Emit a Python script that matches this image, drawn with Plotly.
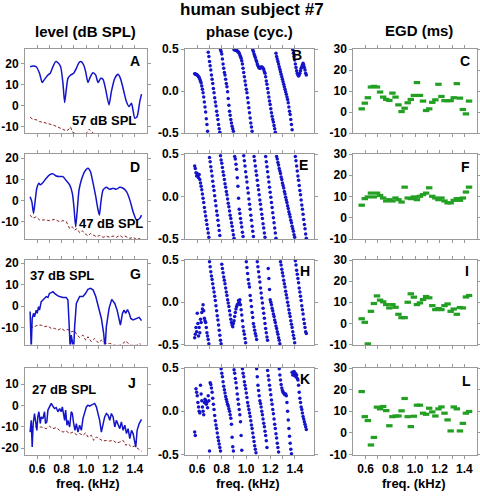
import plotly.graph_objects as go

W, H = 480, 496

# ---------------- data ----------------
freq_tickvals = [0.6, 0.7, 0.8, 0.9, 1.0, 1.1, 1.2, 1.3, 1.4]
freq_ticktext = ['0.6', '', '0.8', '', '1.0', '', '1.2', '', '1.4']

# level panels (dB SPL): blue = emission level, red dashed = noise floor
levA_freq = [0.542,0.564,0.592,0.619,0.641,0.660,0.688,0.707,0.729,0.751,0.770,0.792,0.811,0.825,0.838,0.852,0.874,0.899,0.921,0.942,0.962,0.981,0.997,1.016,1.036,1.057,1.079,1.099,1.121,1.140,1.162,1.189,1.208,1.236,1.263,1.282,1.304,1.331,1.353,1.373,1.400,1.419,1.441,1.455]
levA = [18.4,18.7,18.4,15.3,10.9,12.4,14.5,15.3,18.4,20.8,20.3,18.4,10.6,1.4,7.4,12.9,14.5,15.3,17.6,20.3,20.8,19.2,16.1,11.0,13.7,15.6,14.5,10.9,12.9,12.4,7.4,0.3,6.6,12.9,14.8,12.9,8.2,1.9,-0.5,1.1,-6.0,-5.2,1.9,5.4]
noiseA_freq = [0.542,0.564,0.597,0.619,0.647,0.688,0.729,0.770,0.811,0.838,0.860,0.874,0.888,0.907,0.934,0.975,1.008,1.025,1.036,1.058,1.085,1.140,1.249,1.455]
noiseA = [-5.5,-6.5,-6.8,-7.6,-7.9,-8.4,-9.2,-10.2,-11.5,-12.0,-11.2,-10.2,-12.5,-13.2,-14,-14.5,-12.8,-11.2,-11.8,-13.0,-14.5,-15.5,-16.5,-18]

levD_freq = [0.542,0.556,0.570,0.584,0.597,0.614,0.627,0.647,0.674,0.701,0.729,0.756,0.784,0.811,0.838,0.866,0.888,0.901,0.915,0.926,0.943,0.962,0.989,1.016,1.036,1.058,1.080,1.099,1.110,1.121,1.140,1.167,1.195,1.222,1.249,1.277,1.304,1.332,1.359,1.386,1.414,1.441,1.455]
levD = [1.8,-0.5,-6.1,0.3,5.8,8.2,7.4,8.5,10.5,12.1,12.6,11.6,11.3,11.3,9.4,7.4,3.4,-2.9,-12.4,-6.1,5.0,9.7,13.7,15.3,13.7,8.2,1.8,-4.5,-6.9,-1.3,5.0,6.3,5.3,5.8,5.3,6.3,5.8,4.2,0.3,-5.3,-9.2,-8.4,-6.9]
noiseD_freq = [0.542,0.564,0.592,0.619,0.660,0.701,0.742,0.784,0.811,0.838,0.852,0.866,0.888,0.907,0.926,0.948,0.970,0.989,1.016,1.036,1.058,1.085,1.112,1.140,1.167,1.195,1.222,1.249,1.277,1.299,1.318,1.337,1.359,1.386,1.414,1.436,1.455]
noiseD = [-6.9,-8.4,-7.7,-9.2,-9.2,-9.5,-8.9,-10.0,-9.5,-10.0,-11.6,-13.2,-12.4,-14.0,-13.3,-15.2,-14.3,-15.6,-16.7,-15.6,-16.3,-17.1,-16.5,-17.4,-16.8,-17.4,-16.8,-17.4,-16.5,-17.4,-16.8,-17.4,-17.9,-17.4,-18.4,-17.9,-18.7]

levG_freq = [0.542,0.551,0.559,0.570,0.578,0.592,0.600,0.611,0.619,0.633,0.647,0.660,0.674,0.688,0.701,0.715,0.729,0.742,0.756,0.770,0.784,0.811,0.838,0.852,0.860,0.871,0.879,0.888,0.899,0.907,0.921,0.948,0.975,0.997,1.016,1.036,1.058,1.080,1.099,1.126,1.145,1.156,1.167,1.189,1.211,1.236,1.255,1.271,1.282,1.299,1.312,1.326,1.340,1.354,1.367,1.386,1.400,1.414,1.436,1.455]
levG = [-2.5,-20,-5.7,-3.3,-4.9,-1.8,-3.3,-0.2,-1.8,2.1,2.9,3.7,4.5,4.1,6.0,6.3,6.8,6.0,5.2,4.8,4.5,4.1,4.1,2.9,-6.4,-20,-13.4,-15.8,-20,-9.5,1.3,4.5,4.5,6.0,7.9,8.3,7.6,4.5,-0.2,-5.7,-12.7,-20,-9.5,-1.0,3.2,1.3,-1.8,-6.4,-8.8,-3.3,-1.8,-3.3,-1.5,-3.3,-5.7,-6.4,-6.1,-5.7,-5.2,-6.7]
noiseG_freq = [0.542,0.578,0.605,0.633,0.660,0.688,0.715,0.742,0.770,0.797,0.825,0.852,0.879,0.907,0.926,0.948,0.975,0.997,1.016,1.044,1.071,1.099,1.126,1.162,1.195,1.236,1.277,1.304,1.326,1.345,1.373,1.414,1.441,1.455]
noiseG = [-10.3,-9.5,-8.8,-8.8,-9.5,-9.2,-10.3,-10.3,-11.1,-10.3,-11.4,-10.8,-11.9,-11.4,-13.4,-14.5,-13.4,-15.8,-14.2,-16.5,-15.0,-17.0,-15.8,-17.3,-17.3,-18.1,-18.1,-17.3,-16.1,-17.3,-18.1,-18.1,-17.3,-18.6]

levJ_freq = [0.542,0.551,0.559,0.567,0.578,0.586,0.597,0.605,0.614,0.625,0.633,0.647,0.660,0.668,0.679,0.688,0.701,0.715,0.729,0.742,0.756,0.770,0.784,0.797,0.806,0.816,0.825,0.833,0.844,0.852,0.866,0.879,0.888,0.899,0.910,0.921,0.934,0.948,0.962,0.975,0.989,1.003,1.016,1.030,1.044,1.058,1.071,1.085,1.099,1.112,1.126,1.140,1.153,1.167,1.181,1.195,1.208,1.222,1.236,1.249,1.263,1.277,1.290,1.304,1.318,1.332,1.345,1.359,1.373,1.386,1.400,1.408,1.419,1.436,1.455]
levJ = [-12.5,-7,-19.5,-8.5,-3.8,-7,-11.7,-5.4,-3,-8.5,-5.4,-6.2,-3,-8.5,-7.7,-2.2,-0.7,0.9,-0.4,-1.5,-1,-3,-1.5,-3,-0.7,-3.8,-7,-2.2,-9.3,-7,-10.1,-3,-3.8,-8.5,-11.7,-8.5,-12.5,-9.3,-11.7,-6.2,-3,-0.7,0.1,-0.4,0.1,0.6,0.9,-0.7,-3.8,-7,-12.5,-8.5,-5.4,-3.8,-4.6,-7,-3.8,-5.4,-10.1,-7,-9.3,-10.9,-7.7,-11.7,-9.3,-13.2,-10.9,-15.6,-11.7,-13.2,-17.2,-19.5,-11.7,-8.5,-6.6]
noiseJ_freq = [0.542,0.578,0.605,0.633,0.674,0.701,0.729,0.756,0.784,0.811,0.838,0.866,0.893,0.921,0.948,0.975,0.997,1.016,1.044,1.063,1.085,1.112,1.140,1.167,1.195,1.222,1.249,1.277,1.304,1.326,1.345,1.373,1.400,1.427,1.455]
noiseJ = [-10.1,-9.8,-10.4,-10.1,-10.9,-9.8,-10.9,-10.4,-11.7,-12.5,-12.0,-13.2,-12.5,-13.7,-13.2,-14.0,-12.9,-14.8,-14.0,-16.4,-14.8,-15.6,-16.7,-16.4,-16.7,-16.4,-17.6,-17.2,-16.4,-18.7,-18.0,-19.5,-19.0,-20.3,-21.4]

# phase panels (cycles): uniformly sampled, first sample at phase_f0 kHz, spacing phase_df kHz
phase_f0 = 0.5793
phase_df = 0.005287
phaseB = [.205,.203,.200,.193,.190,.181,.171,.16,.14,.115,.095,.06,.02,-.02,-.07,-.13,-.19,-.25,-.33,-.40,-.48,
          .46,.41,.35,.30,.25,.19,.14,.09,.03,-.02,-.08,-.13,-.18,-.24,-.29,-.34,-.40,-.45,-.49,
          .49,.47,.44,.38,.32,.27,.22,.19,.14,.09,.05,-.01,-.09,-.17,-.24,-.29,-.34,-.38,-.42,-.45,-.48,
          .49,.49,.49,.485,.48,.475,.47,.46,.45,.43,.41,.39,.36,.32,.27,.22,.17,.12,.07,.02,-.02,-.08,-.14,-.20,-.26,-.32,-.38,-.43,
          -.48,.49,.47,.44,.42,.40,.37,.35,.32,.30,.285,.275,.27,.275,.285,.285,.28,.27,.255,.23,.21,.17,.12,.08,.03,-.02,-.07,-.12,-.16,-.21,-.26,-.30,-.34,-.37,-.41,-.45,-.49,
          .45,.41,.38,.35,.32,.29,.26,.23,.20,.17,.14,.11,.08,.05,.02,-.01,-.04,-.07,-.10,-.14,-.19,-.24,-.28,-.34,-.40,-.46,
          .49,.45,.41,.37,.32,.28,.24,.21,.19,.18,.19,.21,.24,.27,.29,.31,.33,.31,.28,.25,.21,.19]
phaseE = [.36,.33,.28,.24,.27,.25,.22,.26,.20,.16,.12,.08,.03,-.02,-.07,-.13,-.18,-.23,-.28,-.33,-.38,-.43,-.48,
          .46,.41,.35,.30,.24,.18,.12,.07,.01,-.05,-.11,-.17,-.22,-.28,-.34,-.40,-.46,
          .48,.43,.39,.34,.29,.25,.20,.15,.11,.06,.02,-.03,-.08,-.12,-.17,-.22,-.26,-.31,-.35,-.40,-.45,-.49,
          .47,.44,.38,.32,.22,.12,-.02,-.15,-.20,-.26,-.31,-.36,-.42,-.47,
          .48,.42,.36,.29,.23,.17,.10,.04,-.03,-.09,-.15,-.22,-.28,-.35,-.41,-.47,
          .47,.42,.36,.30,.25,.19,.13,.08,.02,-.04,-.09,-.15,-.21,-.26,-.32,-.37,-.43,-.48,
          .47,.41,.35,.29,.23,.17,.11,.05,-.01,-.07,-.13,-.19,-.25,-.31,-.37,-.43,-.49,
          .47,.44,.40,.37,.33,.30,.27,.23,.20,.16,.13,.10,.06,.03,-.01,-.04,-.07,-.11,-.14,-.18,-.21,-.24,-.28,-.31,-.35,-.38,-.41,-.45,-.48,
          .47,.42,.36,.30,.24,.19,.13,.07,.02,-.04,-.10,-.15,-.21,-.27,-.33,-.38,-.44,-.49]
phaseH = [-.42,-.38,-.30,-.35,-.13,-.25,-.40,-.30,-.36,-.20,-.24,-.12,-.08,-.03,-.10,-.19,-.22,-.24,-.30,-.36,-.40,-.44,-.49,
          .48,.42,.36,.31,.27,.22,.17,.12,.07,.02,-.04,-.10,-.16,-.21,-.27,-.33,-.39,-.45,-.49,
          .45,.40,.35,.30,.26,.22,.17,.12,.08,.03,-.01,-.05,-.10,-.15,-.20,-.24,-.27,-.29,-.25,-.22,-.17,-.12,-.08,-.05,-.03,-.02,.02,.00,.03,-.03,-.09,-.15,-.22,-.29,-.34,-.38,-.43,-.48,
          .48,.41,.34,.27,.22,.18,.08,.02,-.05,-.12,-.18,-.25,-.29,-.33,-.37,-.40,-.44,
          .48,.42,.36,.30,.24,.17,.11,.05,-.01,-.07,-.13,-.19,-.25,-.31,-.36,-.41,-.45,
          .40,.28,.15,.03,
          .00,-.03,-.07,-.10,-.14,-.17,-.21,-.24,-.28,-.31,-.35,-.38,-.42,-.45,-.49,
          .48,.44,.39,.35,.31,.26,.22,.18,.13,.09,.05,.00,-.04,-.09,-.13,-.17,-.22,-.26,-.30,-.35,-.39,-.43,-.48,
          .49,.44,.38,.33,.28,.23,.17,.12,.07,.02,-.04,-.09,-.14,-.20,-.25,-.30,-.35,-.37]
phaseK = [-.24,-.28,.26,.22,.18,.10,.05,.00,-.02,.30,.20,.12,.05,.00,-.04,.10,.14,.12,.08,.10,.04,.18,.12,
          -.46,.33,.31,.27,.22,.15,.08,.02,-.05,-.11,-.16,-.20,-.25,-.30,-.34,-.38,-.42,-.46,
          .49,.44,.40,.34,.29,.25,.21,.17,.14,.11,.08,.06,.03,.00,-.04,-.08,-.15,-.30,-.41,-.46,
          .48,.44,.38,.33,.27,.20,.14,.08,.02,-.04,-.12,-.28,-.45,
          .49,.44,.40,.34,.30,.26,.21,.16,.10,.06,.02,-.02,-.06,-.11,-.16,-.20,-.25,-.30,-.35,-.40,-.44,-.48,
          .49,.40,.30,.24,.18,.12,.09,.05,.00,-.04,-.09,-.14,-.18,-.23,-.28,-.34,-.42,
          .47,.41,.36,.30,.25,.19,.13,.08,.02,-.03,-.09,-.15,-.20,-.26,-.31,-.37,-.42,
          -.47,.49,.42,.36,.31,.27,.24,.22,.21,.20,.19,.20,.18,
          .10,.00,-.10,-.20,-.29,-.37,-.44,-.49,.45,.42,.43,.46,.41,
          .44,.40,.42,.38,.36,.30,.22,.15,.10,.05,.02,-.02,-.06,-.09,-.12,-.15,-.18,-.21]

# EGD panels (ms)
egd_freq = [0.568,0.593,0.618,0.643,0.667,0.692,0.717,0.742,0.767,0.792,0.817,0.842,0.866,0.891,0.916,0.941,0.966,0.991,1.016,1.040,1.065,1.090,1.115,1.140,1.165,1.190,1.214,1.239,1.264,1.289,1.314,1.339,1.364,1.388,1.413,1.438]
egdC = [1.5,4.2,6.8,11.9,12.2,11.9,9.5,7.1,6.0,5.5,9.0,7.1,3.4,0.2,1.8,4.4,6.0,7.9,14.0,7.9,5.2,0.7,1.5,4.6,5.8,13.2,7.4,5.4,5.4,5.4,6.8,13.5,6.6,1.2,-0.9,5.2]
egdF = [5.9,9.0,9.8,11.6,9.8,11.6,10.5,9.3,7.9,8.5,7.9,9.3,8.5,7.4,14.4,9.3,9.0,9.8,8.5,10.1,10.9,11.6,14.1,10.1,9.3,8.5,9.3,7.9,7.0,7.0,8.2,9.0,8.2,9.3,12.1,14.4]
egdI = [2.2,0.5,-9.7,5.7,9.4,13.0,11.0,10.2,8.9,7.3,8.9,7.6,4.3,2.7,2.7,10.0,14.0,12.4,8.9,9.7,11.3,12.7,12.1,8.4,6.5,7.0,6.5,8.4,9.2,5.7,6.8,4.3,7.5,7.3,12.5,13.2]
egdL = [19.1,7.5,5.7,-5.6,-2.1,11.9,11.1,12.2,10.3,3.3,7.5,7.8,7.8,10.2,15.9,7.5,2.9,7.7,12.8,12.8,9.1,8.6,11.4,9.7,7.8,11.1,12.0,9.1,6.0,0.9,12.0,11.1,0.9,4.4,9.1,9.9]

level_ticks = [-20, -10, 0, 10, 20]
level_ticktext = ['-20', '-10', '0', '10', '20']
phase_ticks = [-0.5, 0, 0.5]
phase_ticktext = ['-0.5', '0.0', '0.5']
egd_ticks = [-10, 0, 10, 20, 30]
egd_ticktext = ['-10', '0', '10', '20', '30']

stim_labels = ['57 dB SPL', '47 dB SPL', '37 dB SPL', '27 dB SPL']
panel_letters = ['A', 'B', 'C', 'D', 'E', 'F', 'G', 'H', 'I', 'J', 'K', 'L']
column_titles = ['level (dB SPL)', 'phase (cyc.)', 'EGD (ms)']

# ---------------- layout geometry (pixels) ----------------
rows_px = [(49, 133), (154, 239), (260, 344.5), (368, 454.5)]
cols_px = [(25, 147), (185, 314), (353.3, 476.7)]
col_xranges = [[0.5, 1.5], [0.5, 1.557], [0.5, 1.5]]
level_ranges = [[-13, 26.8], [-18.2, 22], [-17.8, 21.5], [-23, 17.5]]

BLUE = '#1414c8'
RED = '#8b1f1f'
GREEN = '#23a023'
AXC = '#9a9a9a'
FONT = 'Liberation Sans'


def xp(x):
    return x / W


def yp(y):
    return 1 - y / H


fig = go.Figure()
layout = {}


def axname(k):
    return ('x', 'y') if k == 1 else ('x%d' % k, 'y%d' % k)


level_sets = [(levA_freq, levA, noiseA_freq, noiseA), (levD_freq, levD, noiseD_freq, noiseD),
              (levG_freq, levG, noiseG_freq, noiseG), (levJ_freq, levJ, noiseJ_freq, noiseJ)]
phase_sets = [phaseB, phaseE, phaseH, phaseK]
egd_sets = [egdC, egdF, egdI, egdL]

tickfont = dict(family=FONT, size=12, color='black', weight='bold')

for r in range(4):
    for c in range(3):
        k = r * 3 + c + 1
        xa, ya = axname(k)
        x0, x1 = cols_px[c]
        y0, y1 = rows_px[r]
        if c == 0:
            f, v, nf, nv = level_sets[r]
            fig.add_trace(go.Scatter(x=nf, y=nv, mode='lines', xaxis=xa, yaxis=ya,
                                     line=dict(color=RED, width=1, dash='3px,2px'), showlegend=False))
            fig.add_trace(go.Scatter(x=f, y=v, mode='lines', xaxis=xa, yaxis=ya,
                                     line=dict(color=BLUE, width=1.5,
                                               shape='spline' if r < 2 else 'linear', smoothing=0.6),
                                     showlegend=False))
            ycfg = dict(range=level_ranges[r], tickvals=level_ticks, ticktext=level_ticktext)
        elif c == 1:
            vals = phase_sets[r]
            fx = [phase_f0 + i * phase_df for i in range(len(vals))]
            fig.add_trace(go.Scatter(x=fx, y=vals, mode='markers', xaxis=xa, yaxis=ya, cliponaxis=False,
                                     marker=dict(color=BLUE, size=3.5, symbol='circle'), showlegend=False))
            ycfg = dict(range=[-0.5, 0.5], tickvals=phase_ticks, ticktext=phase_ticktext)
        else:
            fig.add_trace(go.Scatter(x=egd_freq, y=egd_sets[r], mode='markers', xaxis=xa, yaxis=ya,
                                     cliponaxis=False,
                                     marker=dict(symbol='line-ew', size=4.6, color=GREEN,
                                                 line=dict(color=GREEN, width=3.2)), showlegend=False))
            ycfg = dict(range=[-10, 30], tickvals=egd_ticks, ticktext=egd_ticktext)
        common = dict(showline=True, linecolor=AXC, linewidth=1, mirror='ticks', ticks='outside',
                      ticklen=3, tickwidth=1, tickcolor=AXC, showgrid=False, zeroline=False,
                      automargin=False, tickfont=tickfont)
        xcfg = dict(domain=[xp(x0), xp(x1)], range=col_xranges[c], tickvals=freq_tickvals,
                    ticktext=freq_ticktext, showticklabels=(r == 3), anchor=ya, **common)
        ycfg.update(dict(domain=[yp(y1), yp(y0)], anchor=xa, **common))
        layout['xaxis' if k == 1 else 'xaxis%d' % k] = xcfg
        layout['yaxis' if k == 1 else 'yaxis%d' % k] = ycfg

annotations = []


def ann(text, x, y, size, xanchor='center'):
    annotations.append(dict(text=text, x=xp(x), y=yp(y), xref='paper', yref='paper',
                            xanchor=xanchor, yanchor='middle', showarrow=False,
                            font=dict(family=FONT, size=size, color='black', weight='bold')))


ann('human subject #7', 252, 10, 17)
ann(column_titles[0], 85, 31, 15)
ann(column_titles[1], 249.5, 32, 15)
ann(column_titles[2], 419, 30, 15)

letter_pos = [(142, 61), (304, 55), (472, 61), (142, 167), (310, 165), (472, 167),
              (143, 274), (312, 271), (471, 271), (138, 383), (312, 379), (473, 381)]
for lt, (lx, ly) in zip(panel_letters, letter_pos):
    ann(lt, lx, ly, 14, xanchor='right')

stim_pos = [(104, 120), (110.5, 223), (62, 275), (63.5, 389)]
for t, (sx, sy) in zip(stim_labels, stim_pos):
    ann(t, sx, sy, 13)

for cx in (87.5, 247.5, 414):
    ann('freq. (kHz)', cx, 483, 13)

fig.update_layout(template='none', width=W, height=H, margin=dict(l=0, r=0, t=0, b=0, pad=0),
                  paper_bgcolor='white', plot_bgcolor='white', annotations=annotations, **layout)

fig.write_html('out.html', config={'responsive': False, 'displayModeBar': False},
               post_script="document.body.style.margin='0px';document.body.style.padding='0px';"
                           "document.documentElement.style.overflow='hidden';")
